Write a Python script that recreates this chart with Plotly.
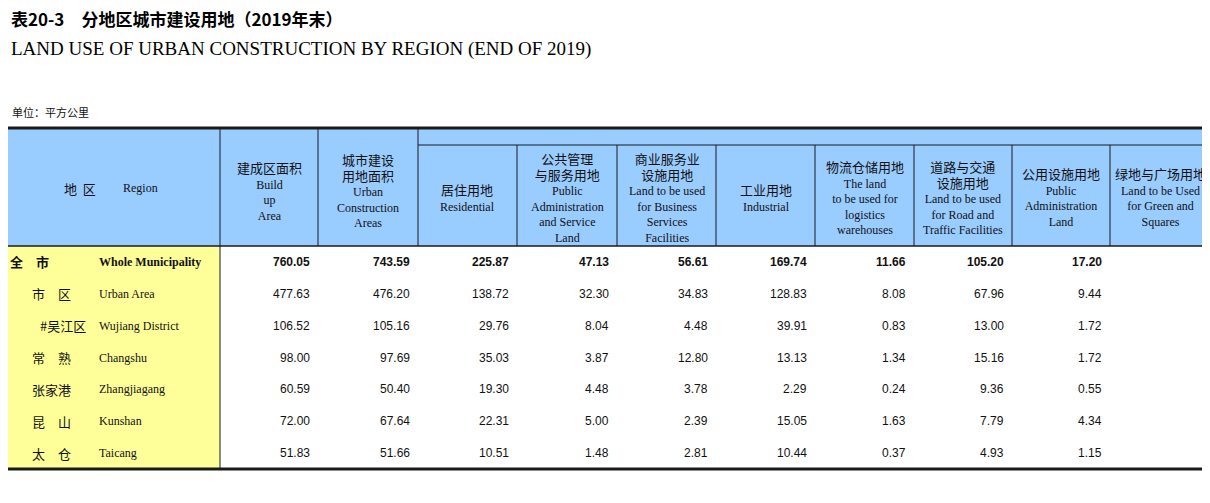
import plotly.graph_objects as go

W, H = 1210, 503
PAD = 8  # browser body margin

regions_cn = ["全　市", "市　区", "#吴江区", "常　熟", "张家港", "昆　山", "太　仓"]
regions_en = ["Whole Municipality", "Urban Area", "Wujiang District", "Changshu",
              "Zhangjiagang", "Kunshan", "Taicang"]

headers = [
    "建成区面积<br>Build<br>up<br>Area",
    "城市建设<br>用地面积<br>Urban<br>Construction<br>Areas",
    "居住用地<br>Residential",
    "公共管理<br>与服务用地<br>Public<br>Administration<br>and Service<br>Land",
    "商业服务业<br>设施用地<br>Land to be used<br>for Business<br>Services<br>Facilities",
    "工业用地<br>Industrial",
    "物流仓储用地<br>The land<br>to be used for<br>logistics<br>warehouses",
    "道路与交通<br>设施用地<br>Land to be used<br>for Road and<br>Traffic Facilities",
    "公用设施用地<br>Public<br>Administration<br>Land",
    "绿地与广场用地<br>Land to be Used<br>for Green and<br>Squares",
]

build_up = [760.05, 477.63, 106.52, 98.00, 60.59, 72.00, 51.83]
urban_construction = [743.59, 476.20, 105.16, 97.69, 50.40, 67.64, 51.66]
residential = [225.87, 138.72, 29.76, 35.03, 19.30, 22.31, 10.51]
public_admin_service = [47.13, 32.30, 8.04, 3.87, 4.48, 5.00, 1.48]
business = [56.61, 34.83, 4.48, 12.80, 3.78, 2.39, 2.81]
industrial = [169.74, 128.83, 39.91, 13.13, 2.29, 15.05, 10.44]
logistics = [11.66, 8.08, 0.83, 1.34, 0.24, 1.63, 0.37]
road_traffic = [105.20, 67.96, 13.00, 15.16, 9.36, 7.79, 4.93]
utilities = [17.20, 9.44, 1.72, 1.72, 0.55, 4.34, 1.15]
green_squares = [110.18, 56.04, 7.42, 14.64, 10.40, 9.13, 19.97]

columns = [build_up, urban_construction, residential, public_admin_service, business,
           industrial, logistics, road_traffic, utilities, green_squares]

# table geometry (page pixels)
col_edges = [220, 318, 418, 517, 617, 716, 815, 914, 1012, 1110, 1210]
top, band, head_bot, bottom = 128, 145, 246, 469
row_h = (bottom - head_bot) / len(regions_cn)

CN = "Noto Sans CJK SC"
SERIF = "Liberation Serif"
SANS = "Liberation Sans"

fig = go.Figure()
shapes = []
ann = []


def rect(x0, y0, x1, y1, fill):
    shapes.append(dict(type="rect", x0=x0, y0=y0, x1=x1, y1=y1,
                       fillcolor=fill, line=dict(width=0), layer="below"))


def line(x0, y0, x1, y1, w=1, c="#1a1a1a"):
    shapes.append(dict(type="line", x0=x0, y0=y0, x1=x1, y1=y1,
                       line=dict(width=w, color=c)))


def text(x, y, s, size=12, family=SERIF, anchor="center", bold=False, color="#111"):
    if bold:
        s = "<b>" + s + "</b>"
    ann.append(dict(x=x, y=y, text=s, showarrow=False, xanchor=anchor,
                    yanchor="middle", font=dict(size=size, family=family, color=color),
                    align="center"))


def header_html(h):
    parts = []
    for p in h.split("<br>"):
        if any(ord(ch) > 127 for ch in p):
            parts.append(f"<span style='font-family:{CN};font-size:13px'>{p}</span>")
        else:
            parts.append(p)
    return "<br>".join(parts)


rect(PAD, top, W, head_bot, "#99ccff")
rect(PAD, head_bot, col_edges[0], bottom, "#ffff99")
line(PAD, top, W, top, 3)
line(col_edges[2], band, W, band, 1)
line(PAD, head_bot, W, head_bot, 1.5)
line(PAD, bottom, W, bottom, 3)
for i, x in enumerate(col_edges[:-1]):
    y0 = top if i < 3 else band
    line(x, y0, x, head_bot, 1)
line(col_edges[0], head_bot, col_edges[0], bottom, 1)

# titles
text(PAD + 1, 18, "表20-3　分地区城市建设用地（2019年末）", 17, CN, "left", True, "#000")
text(PAD + 1, 49, "LAND USE OF URBAN CONSTRUCTION BY REGION (END OF 2019)", 19, SERIF, "left", False, "#000")
text(PAD + 2, 112, "单位：平方公里", 11, CN, "left")
text(1206, 113, "(sq.km)", 11, SERIF, "right")

# header
text(80, 188, "地  区", 13, CN)
text(140, 188, "Region", 12, SERIF)
for i, h in enumerate(headers):
    cx = (col_edges[i] + col_edges[i + 1]) / 2
    cy = (top + head_bot) / 2 + 3 if i < 2 else (band + head_bot) / 2 + 1
    text(cx, cy, header_html(h), 12, SERIF)

# body
cn_x = [PAD, 30, 38, 30, 30, 30, 30]
for r in range(len(regions_cn)):
    cy = head_bot + row_h * (r + 0.5)
    bold = r == 0
    text(cn_x[r], cy, regions_cn[r], 13, CN, "left", bold)
    text(97, cy, regions_en[r], 12, SERIF, "left", bold)
    for c, vals in enumerate(columns):
        text(col_edges[c + 1] - 6, cy, f"{vals[r]:.2f}", 12, SANS, "right", bold)

fig.update_layout(
    width=W - 2 * PAD, height=H - 2 * PAD, margin=dict(l=0, r=0, t=0, b=0),
    paper_bgcolor="white", plot_bgcolor="white",
    xaxis=dict(range=[PAD, W - PAD], visible=False, fixedrange=True),
    yaxis=dict(range=[H - PAD, PAD], visible=False, fixedrange=True),
    shapes=shapes, annotations=ann, showlegend=False,
)
fig.write_html("out.html")
